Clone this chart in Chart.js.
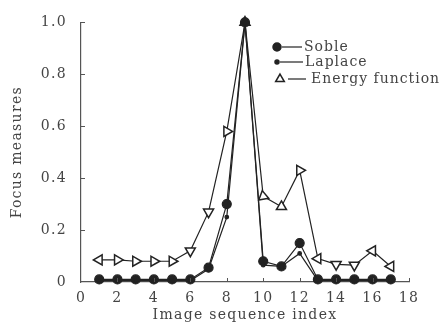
<!DOCTYPE html>
<html>
<head>
    <meta charset="utf-8" />
    <title>Focus measures</title>
    <script src="https://cdn.jsdelivr.net/npm/chart.js@4.4.1/dist/chart.umd.min.js"></script>
    <style>
        body { margin: 0; background: #ffffff; }
        .wrap { width: 439px; height: 331px; }
    </style>
</head>
<body>
<div class="wrap"><canvas id="chart" width="439" height="331"></canvas></div>
<script>
    // image sequence index
    const frames = [1, 2, 3, 4, 5, 6, 7, 8, 9, 10, 11, 12, 13, 14, 15, 16, 17];
    const soble = [0.01, 0.01, 0.01, 0.01, 0.01, 0.01, 0.055, 0.30, 1.0, 0.08, 0.06, 0.15, 0.01, 0.01, 0.01, 0.01, 0.01];
    const laplace = [0.005, 0.005, 0.005, 0.005, 0.005, 0.005, 0.05, 0.25, 1.0, 0.065, 0.06, 0.11, 0.005, 0.005, 0.005, 0.005, 0.005];
    const energy = [0.085, 0.085, 0.08, 0.08, 0.08, 0.12, 0.27, 0.58, 1.0, 0.33, 0.29, 0.43, 0.09, 0.068, 0.065, 0.12, 0.06];
    const xTicks = [0, 2, 4, 6, 8, 10, 12, 14, 16, 18];
    const yTicks = [0, 0.2, 0.4, 0.6, 0.8, 1.0];
    const yTickLabels = ['0', '0.2', '0.4', '0.6', '0.8', '1.0'];

    // the scanned triangles sit at odd angles
    const triRotation = [270, 90, 90, 90, 90, 60, 300, 330, 0, 110, 0, 330, 150, 180, 300, 30, 270];

    const FONT = 'DejaVu Serif';
    const TEXT = '#444';
    const INK = '#222';
    const SPACING = '1.3px';

    const pts = ys => frames.map((x, i) => ({ x: x, y: ys[i] }));

    // the printed text is loosely spaced; canvas letterSpacing does that
    const spacing = {
        id: 'spacing',
        beforeUpdate(chart) { chart.ctx.letterSpacing = SPACING; },
        beforeDraw(chart) { chart.ctx.letterSpacing = SPACING; }
    };

    // short inward tick marks, placed with the chart's own scales
    const innerTicks = {
        id: 'innerTicks',
        afterDraw(chart) {
            const ctx = chart.ctx;
            const xs = chart.scales.x, ys = chart.scales.y;
            ctx.save();
            ctx.strokeStyle = '#555';
            ctx.lineWidth = 1;
            ctx.beginPath();
            xTicks.forEach(v => {
                if (v === 0) return;
                const px = Math.round(xs.getPixelForValue(v)) + 0.5;
                ctx.moveTo(px, ys.bottom);
                ctx.lineTo(px, ys.bottom - 4);
            });
            yTicks.forEach(v => {
                if (v === 0) return;
                const py = Math.round(ys.getPixelForValue(v)) + 0.5;
                ctx.moveTo(xs.left, py);
                ctx.lineTo(xs.left + 4, py);
            });
            ctx.stroke();
            ctx.restore();
        }
    };

    // legend drawn inside the plot, top right
    const insideLegend = {
        id: 'insideLegend',
        afterDraw(chart) {
            const ctx = chart.ctx;
            const rows = [
                { ds: 1, y: 47, mx: 277, l0: 282, l1: 302, tx: 304 },
                { ds: 0, y: 62, mx: 277, l0: 280, l1: 303, tx: 305 },
                { ds: 2, y: 79, mx: 280, l0: 288, l1: 306, tx: 311 }
            ];
            ctx.save();
            rows.forEach(r => {
                const d = chart.data.datasets[r.ds];
                ctx.strokeStyle = INK;
                ctx.lineWidth = 1.2;
                ctx.beginPath();
                ctx.moveTo(r.l0, r.y);
                ctx.lineTo(r.l1, r.y);
                ctx.stroke();

                ctx.fillStyle = d.pointBackgroundColor;
                ctx.strokeStyle = INK;
                ctx.lineWidth = 1.5;
                Chart.helpers.drawPoint(ctx, {
                    pointStyle: d.pointStyle,
                    radius: d.legendRadius,
                    rotation: 0,
                    borderWidth: 1.5
                }, r.mx, r.y);

                ctx.fillStyle = TEXT;
                ctx.font = '14px "' + FONT + '"';
                ctx.letterSpacing = '1px';
                ctx.textBaseline = 'middle';
                ctx.textAlign = 'left';
                ctx.fillText(d.label, r.tx, r.y);
            });
            ctx.restore();
        }
    };

    const chart = new Chart(document.getElementById('chart'), {
        type: 'line',
        data: {
            datasets: [{
                label: 'Laplace',
                data: pts(laplace),
                borderColor: INK,
                borderWidth: 1.2,
                pointStyle: 'circle',
                pointRadius: 1.8,
                pointBackgroundColor: INK,
                pointBorderColor: INK,
                legendRadius: 2,
                tension: 0,
                clip: false
            }, {
                label: 'Soble',
                data: pts(soble),
                borderColor: INK,
                borderWidth: 1.2,
                pointStyle: 'circle',
                pointRadius: 4.5,
                pointBackgroundColor: INK,
                pointBorderColor: INK,
                legendRadius: 4,
                tension: 0,
                clip: false
            }, {
                label: 'Energy function',
                data: pts(energy),
                borderColor: INK,
                borderWidth: 1.2,
                pointStyle: 'triangle',
                pointRadius: 5.8,
                pointRotation: triRotation,
                pointBorderWidth: 1.5,
                pointBackgroundColor: '#ffffff',
                pointBorderColor: INK,
                legendRadius: 5,
                tension: 0,
                clip: false
            }]
        },
        options: {
            responsive: false,
            animation: false,
            events: [],
            layout: { padding: { top: 16, right: 30, left: 0, bottom: 0 } },
            plugins: {
                legend: { display: false },
                tooltip: { enabled: false }
            },
            scales: {
                x: {
                    type: 'linear',
                    min: 0,
                    max: 18,
                    afterBuildTicks: s => { s.ticks = xTicks.map(v => ({ value: v })); },
                    afterFit: s => { s.height = 49; },
                    grid: { display: false, drawTicks: false },
                    border: { display: true, color: '#555', width: 1.2 },
                    ticks: {
                        color: TEXT,
                        padding: 8,
                        maxRotation: 0,
                        font: { family: FONT, size: 14 }
                    },
                    title: {
                        display: true,
                        text: 'Image sequence index',
                        color: TEXT,
                        padding: { top: 0, bottom: 7 },
                        font: { family: FONT, size: 14 }
                    }
                },
                y: {
                    type: 'linear',
                    min: 0,
                    max: 1,
                    afterBuildTicks: s => { s.ticks = yTicks.map(v => ({ value: v })); },
                    afterFit: s => { s.width = 81; },
                    grid: { display: false, drawTicks: false },
                    border: { display: true, color: '#555', width: 1.2 },
                    ticks: {
                        color: TEXT,
                        padding: 14,
                        font: { family: FONT, size: 14 },
                        callback: v => yTickLabels[yTicks.indexOf(v)]
                    },
                    title: {
                        display: true,
                        text: 'Focus measures',
                        color: TEXT,
                        padding: { top: 9, bottom: 0 },
                        font: { family: FONT, size: 14 }
                    }
                }
            }
        },
        plugins: [spacing, innerTicks, insideLegend]
    });
</script>
</body>
</html>
